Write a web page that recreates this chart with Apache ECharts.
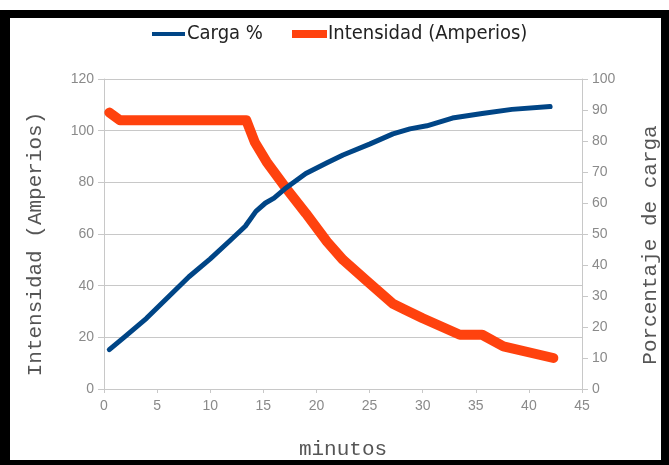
<!DOCTYPE html>
<html>
<head>
<meta charset="utf-8">
<script src="https://cdn.jsdelivr.net/npm/echarts@6/dist/echarts.min.js"></script>
<style>
html,body{margin:0;padding:0;background:#fff;}
#chart{width:669px;height:465px;}
</style>
</head>
<body>
<div id="chart"></div>
<script>
// Data
const cargaMin = [0.5, 2, 4, 6, 8, 10, 12, 13.3, 14.3, 15.2, 16, 17, 19, 21, 22.5, 25, 27.2, 28.8, 30.4, 32.8, 35.6, 38.4, 42];
const cargaPct = [12.7, 17, 22.8, 29.5, 36.2, 42, 48.3, 52.5, 57.3, 60, 61.6, 64.5, 69.5, 73, 75.5, 79, 82.3, 83.9, 84.9, 87.4, 88.9, 90.2, 91.1];
const intMin = [0.5, 1.5, 13.4, 14.2, 15.3, 17, 19, 21, 22.5, 24.7, 27.2, 28.2, 30, 33.5, 35.6, 37.6, 42.3];
const intAmp = [107, 104, 104, 95.5, 88, 78.5, 68, 57, 50, 42, 33, 31, 27.4, 21, 21, 16.5, 12];
const xTicks = {min: 0, max: 45, interval: 5};
const leftTicks = {min: 0, max: 120, interval: 20};
const rightTicks = {min: 0, max: 100, interval: 10};
const seriesNames = ['Carga %', 'Intensidad (Amperios)'];

const chart = echarts.init(document.getElementById('chart'), null, {renderer: 'canvas'});
const labelStyle = {color: '#8a8a8a', fontSize: 14, fontFamily: 'Liberation Sans, Arial, sans-serif'};
const titleFont = {color: '#555', fontSize: 21, fontFamily: 'Liberation Mono, Courier New, monospace'};
const legendText = {color: '#222', fontSize: 20, fontFamily: '"DejaVu Sans Condensed", sans-serif'};
const axisGray = '#c8c8c8';

chart.setOption({
  animation: false,
  backgroundColor: '#fff',
  graphic: [
    {type: 'rect', shape: {x: 0, y: 10, width: 669, height: 8}, style: {fill: '#000'}},
    {type: 'rect', shape: {x: 0, y: 10, width: 10, height: 455}, style: {fill: '#000'}},
    {type: 'rect', shape: {x: 661, y: 10, width: 8, height: 455}, style: {fill: '#000'}},
    {type: 'rect', shape: {x: 0, y: 460, width: 669, height: 5}, style: {fill: '#000'}}
  ],
  legend: [
    {data: [seriesNames[0]], left: 152, top: 24, padding: 0, icon: 'rect', itemWidth: 33, itemHeight: 4, itemGap: 0,
     textStyle: Object.assign({padding: [0, 0, 0, -3]}, legendText)},
    {data: [seriesNames[1]], left: 292, top: 24, padding: 0, icon: 'rect', itemWidth: 35, itemHeight: 8, itemGap: 0,
     textStyle: Object.assign({padding: [0, 0, 0, -4]}, legendText)}
  ],
  grid: {left: 104, right: 86, top: 79, bottom: 72, containLabel: false},
  xAxis: {
    type: 'value', min: xTicks.min, max: xTicks.max, interval: xTicks.interval,
    name: 'minutos', nameLocation: 'middle', nameGap: 50, nameTextStyle: titleFont,
    axisLine: {show: true, lineStyle: {color: axisGray}},
    axisTick: {show: true, length: 4, lineStyle: {color: axisGray}},
    axisLabel: Object.assign({margin: 10}, labelStyle),
    splitLine: {show: false}
  },
  yAxis: [
    {
      type: 'value', min: leftTicks.min, max: leftTicks.max, interval: leftTicks.interval,
      position: 'left',
      name: seriesNames[1], nameLocation: 'middle', nameRotate: 90, nameGap: 58,
      nameTextStyle: Object.assign({padding: [0, 20, 0, 0]}, titleFont),
      axisLine: {show: true, lineStyle: {color: axisGray}},
      axisTick: {show: true, length: 6, lineStyle: {color: axisGray}},
      axisLabel: Object.assign({margin: 10}, labelStyle),
      splitLine: {show: true, lineStyle: {color: axisGray}}
    },
    {
      type: 'value', min: rightTicks.min, max: rightTicks.max, interval: rightTicks.interval,
      position: 'right',
      name: 'Porcentaje de carga', nameLocation: 'middle', nameRotate: 90, nameGap: 58,
      nameTextStyle: Object.assign({padding: [0, 22, 0, 0]}, titleFont),
      axisLine: {show: true, lineStyle: {color: axisGray}},
      axisTick: {show: true, length: 6, lineStyle: {color: axisGray}},
      axisLabel: Object.assign({margin: 10}, labelStyle),
      splitLine: {show: false}
    }
  ],
  series: [
    {
      name: seriesNames[0], type: 'line', yAxisIndex: 1, showSymbol: false, symbol: 'none',
      data: cargaMin.map((m, i) => [m, cargaPct[i]]),
      lineStyle: {color: '#004586', width: 5, join: 'round', cap: 'round'},
      itemStyle: {color: '#004586'}, z: 3
    },
    {
      name: seriesNames[1], type: 'line', yAxisIndex: 0, showSymbol: false, symbol: 'none',
      data: intMin.map((m, i) => [m, intAmp[i]]),
      lineStyle: {color: '#ff420e', width: 10, join: 'round', cap: 'round'},
      itemStyle: {color: '#ff420e'}, z: 2
    }
  ]
});
</script>
</body>
</html>
